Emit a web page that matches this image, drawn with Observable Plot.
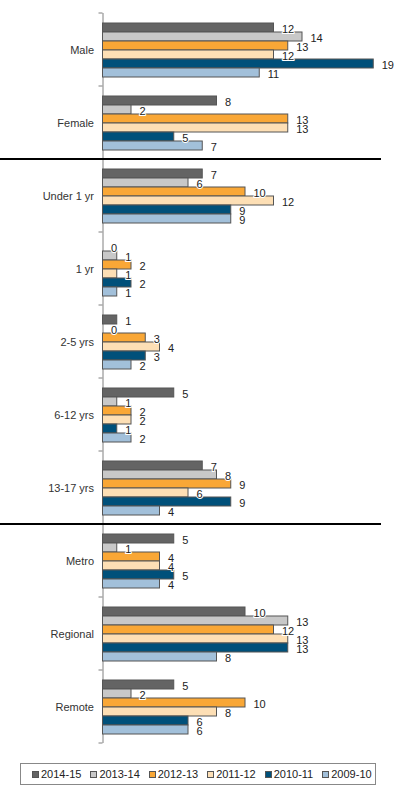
<!DOCTYPE html>
<html><head><meta charset="utf-8">
<script src="https://cdn.jsdelivr.net/npm/d3@7"></script>
<script src="https://cdn.jsdelivr.net/npm/@observablehq/plot@0.6"></script>
<style>
body{margin:0;background:#fff;font-family:"Liberation Sans",Arial,sans-serif;}
#legend{position:relative;margin-left:20px;margin-top:8px;width:343px;height:20px;border:1px solid #888;display:flex;align-items:center;padding-left:11px;box-sizing:content-box;font-size:11px;color:#222;}
#legend .item{display:flex;align-items:center;margin-right:9px;white-space:nowrap;}
#legend .sw{width:5px;height:5px;border:1px solid #555;margin-right:2px;}
</style></head><body><div id="chart"></div><div id="legend"></div>
<script>
const categories = ["Male","Female","Under 1 yr","1 yr","2-5 yrs","6-12 yrs","13-17 yrs","Metro","Regional","Remote"];
const series = ["2014-15","2013-14","2012-13","2011-12","2010-11","2009-10"];
const colors = ["#646464","#C8C8C8","#F9A736","#FDDFB5","#00507A","#A2C0DA"];
const v2014_15 = [12,8,7,0,1,5,7,5,10,5];
const v2013_14 = [14,2,6,1,0,1,8,1,13,2];
const v2012_13 = [13,13,10,2,3,2,9,4,12,10];
const v2011_12 = [12,13,12,1,4,2,6,4,13,8];
const v2010_11 = [19,5,9,2,3,1,9,5,13,6];
const v2009_10 = [11,7,9,1,2,2,4,4,8,6];
const groupEnds = ["Female","13-17 yrs"];
const xDomain = [0, 20];

const seriesValues = [v2014_15, v2013_14, v2012_13, v2011_12, v2010_11, v2009_10];
const rows = [];
categories.forEach((c, i) => series.forEach((s, j) => rows.push({category: c, series: s, value: seriesValues[j][i]})));

const chart = Plot.plot({
  width: 397, height: 755,
  marginLeft: 102.5, marginRight: 9.5, marginTop: 13, marginBottom: 12,
  style: {fontFamily: "Liberation Sans, Arial, sans-serif", fontSize: "11px", color: "#333", background: "white"},
  x: {domain: xDomain, axis: null},
  y: {domain: series, paddingInner: 0.05, paddingOuter: 0.7, axis: null},
  fy: {domain: categories, padding: 0, label: null, tickSize: 0, tickPadding: 9, axis: "left"},
  color: {domain: series, range: colors},
  facet: {data: rows, y: "category"},
  marks: [
    Plot.ruleX([0], {stroke: "#808080"}),
    Plot.barX(rows, {x1: 0, x2: "value", y: "series", fill: "series", stroke: "#555", strokeWidth: 1, filter: d => d.value > 0}),
    Plot.text(rows, {x: "value", y: "series", text: d => String(d.value), dx: 8, dy: 1, textAnchor: "start", fill: "#222", stroke: "white", strokeWidth: 2, paintOrder: "stroke", fontSize: 11})
  ]
});
document.getElementById("chart").appendChild(chart);

// category boundary ticks and group separators, from the fy scale
const fyScale = chart.scale("fy");
const bw = fyScale.bandwidth;
const bandTop = c => fyScale.apply(c);
const ml = 102.5;
const g = d3.select(chart).append("g");
const bounds = categories.map(bandTop).concat([bandTop(categories[categories.length - 1]) + bw]);
g.selectAll("line.tk").data(bounds).join("line")
  .attr("x1", ml - 4).attr("x2", ml).attr("y1", d => d).attr("y2", d => d)
  .attr("stroke", "#808080");
g.selectAll("line.sep").data(groupEnds).join("line")
  .attr("x1", 0).attr("x2", 381)
  .attr("y1", c => bandTop(c) + bw).attr("y2", c => bandTop(c) + bw)
  .attr("stroke", "#000").attr("stroke-width", 2);

const legend = d3.select("#legend");
series.forEach((s, i) => {
  const it = legend.append("div").attr("class", "item");
  it.append("div").attr("class", "sw").style("background", colors[i]);
  it.append("span").text(s);
});
</script>
</body></html>
